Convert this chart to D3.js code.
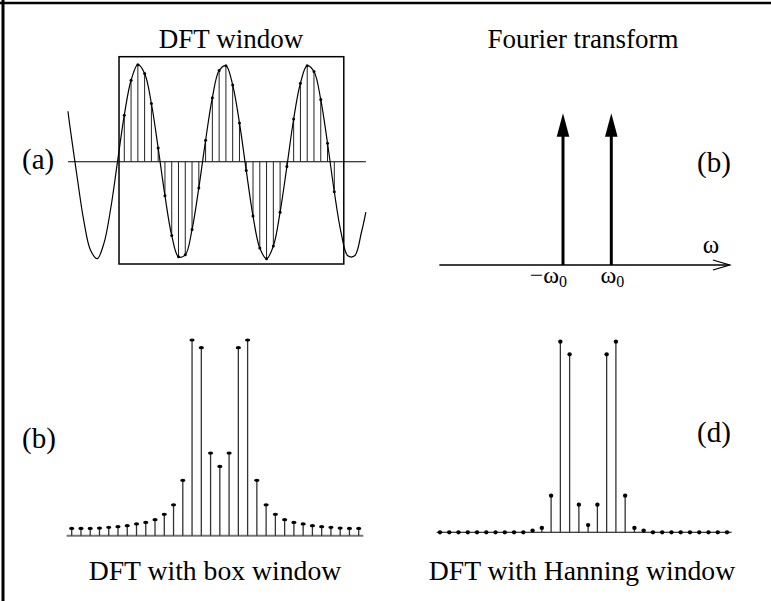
<!DOCTYPE html>
<html><head><meta charset="utf-8">
<script src="https://cdn.jsdelivr.net/npm/d3@7"></script>
<style>body{margin:0;background:#fff}svg{display:block}</style>
</head><body><svg id="c" width="771" height="601"></svg>
<script>
// ---------- data ----------
// (a) sampled sinusoid: sample n = 0..31 inside the DFT window
const sampleIndex = [0,1,2,3,4,5,6,7,8,9,10,11,12,13,14,15,16,17,18,19,20,21,22,23,24,25,26,27,28,29,30,31];
const sampleValues = [0.48,0.84,1.00,0.91,0.60,0.14,-0.35,-0.76,-0.98,-0.96,-0.70,-0.27,0.22,0.66,0.94,0.99,0.79,0.40,-0.09,-0.56,-0.89,-1.00,-0.87,-0.52,-0.05,0.44,0.81,0.99,0.93,0.64,0.19,-0.31];
// continuous signal outside the window
const tailLeftIndex = [-8.32,-8,-7,-6,-5,-4,-3,-2,-1];
const tailLeftValues = [0.52,0.35,-0.14,-0.60,-0.91,-1.00,-0.84,-0.48,0.00];
const tailRightIndex = [32,33,34,35,35.66];
const tailRightValues = [-0.73,-0.97,-0.97,-0.73,-0.52];
const windowRange = [-0.78, 32.4];

// (b) Fourier transform: impulses at -w0, +w0
const ftFreq = [-1, 1];
const ftAmp = [1, 1];
const ftLabels = ["\u2212\u03c9", "\u03c9"];
const ftAxisRange = [-6.12, 5.9];

// (c) DFT with box window (|X_k|, normalised)
const dftIndex = sampleIndex;
const boxDFT = [0.037,0.037,0.037,0.039,0.043,0.046,0.051,0.060,0.068,0.082,0.109,0.158,0.283,1.0,0.961,0.422,0.354,0.422,0.961,1.0,0.283,0.158,0.109,0.082,0.068,0.060,0.051,0.046,0.043,0.039,0.037,0.037];
// (d) DFT with Hanning window
const hannDFT = [0,0,0,0,0,0,0,0,0,0,0.009,0.023,0.192,1.0,0.934,0.145,0.038,0.145,0.934,1.0,0.192,0.023,0.009,0,0,0,0,0,0,0,0,0];

const titles = ["DFT window", "Fourier transform", "DFT with box window", "DFT with Hanning window"];
const panelLabels = ["(a)", "(b)", "(b)", "(d)"];

// ---------- drawing ----------
const svg = d3.select("#c");
const FONT = "'Liberation Serif','Times New Roman',Times,serif";
svg.append("rect").attr("width",771).attr("height",601).attr("fill","#fff");
// frame (left and top edges)
svg.append("line").attr("x1",3).attr("x2",3).attr("y1",0).attr("y2",601).attr("stroke","#000").attr("stroke-width",3);
svg.append("line").attr("x1",0).attr("x2",771).attr("y1",3).attr("y2",3).attr("stroke","#000").attr("stroke-width",2.6);

function txt(x,y,s,size,anchor){
  return svg.append("text").attr("x",x).attr("y",y).attr("font-family",FONT)
    .attr("font-size",size).attr("text-anchor",anchor||"middle").attr("fill","#000").text(s);
}
function label(x,y,s){
  return txt(x,y,s,29,"start");
}

// ---- panel (a) ----
{
  const x = d3.scaleLinear().domain([0,31]).range([124.3,334.3]);
  const y = d3.scaleLinear().domain([-1,1]).range([258.7,64.7]);
  const g = svg.append("g");
  g.append("rect").attr("x",x(windowRange[0])).attr("y",56.7)
    .attr("width",x(windowRange[1])-x(windowRange[0])).attr("height",264-56.7)
    .attr("fill","none").attr("stroke","#000").attr("stroke-width",1.5);
  g.append("line").attr("x1",x(tailLeftIndex[0])).attr("x2",x(tailRightIndex[tailRightIndex.length-1]))
    .attr("y1",y(0)).attr("y2",y(0)).attr("stroke","#000").attr("stroke-width",1.1);
  g.selectAll("line.s").data(sampleIndex).join("line").attr("class","s")
    .attr("x1",d=>x(d)).attr("x2",d=>x(d)).attr("y1",y(0)).attr("y2",(d,i)=>y(sampleValues[i]))
    .attr("stroke","#222").attr("stroke-width",1);
  const pts = [];
  tailLeftIndex.forEach((d,i)=>pts.push([d,tailLeftValues[i]]));
  sampleIndex.forEach((d,i)=>pts.push([d,sampleValues[i]]));
  tailRightIndex.forEach((d,i)=>pts.push([d,tailRightValues[i]]));
  g.append("path").datum(pts)
    .attr("d",d3.line().x(d=>x(d[0])).y(d=>y(d[1])).curve(d3.curveCatmullRom.alpha(0.5)))
    .attr("fill","none").attr("stroke","#000").attr("stroke-width",1.2);
  g.selectAll("circle").data(sampleIndex).join("circle")
    .attr("cx",d=>x(d)).attr("cy",(d,i)=>y(sampleValues[i])).attr("r",1.5).attr("fill","#000");
  txt(231,48,titles[0],27);
  label(22,169,panelLabels[0]);
}

// ---- panel (b) Fourier transform ----
{
  const x = d3.scaleLinear().domain([-1,1]).range([563,611.3]);
  const y = d3.scaleLinear().domain([0,1]).range([265,113.3]);
  const g = svg.append("g");
  const xEnd = x(ftAxisRange[1]);
  g.append("line").attr("x1",x(ftAxisRange[0])).attr("x2",xEnd).attr("y1",y(0)).attr("y2",y(0))
    .attr("stroke","#000").attr("stroke-width",1.5);
  g.append("path").attr("d",`M${xEnd-16.7},${y(0)-5}L${xEnd},${y(0)}L${xEnd-16.7},${y(0)+5}`)
    .attr("fill","none").attr("stroke","#000").attr("stroke-width",1.3);
  ftFreq.forEach((f,i)=>{
    const cx = x(f), top = y(ftAmp[i]);
    g.append("line").attr("x1",cx).attr("x2",cx).attr("y1",y(0)).attr("y2",top+20)
      .attr("stroke","#000").attr("stroke-width",3);
    g.append("path").attr("d",`M${cx-6.3},${top+23.4}L${cx},${top}L${cx+6.3},${top+23.4}Z`).attr("fill","#000");
  });
  const t1 = txt(x(ftFreq[0])+4,283,"",24,"end");
  t1.append("tspan").text(ftLabels[0]);
  t1.append("tspan").attr("font-size",16).attr("dy",4).text("0");
  const t2 = txt(x(ftFreq[1])+1,283,"",24,"middle");
  t2.append("tspan").text(ftLabels[1]);
  t2.append("tspan").attr("font-size",16).attr("dy",4).text("0");
  txt(711,253,"\u03c9",25);
  txt(583,48,titles[1],27);
  label(697,172,panelLabels[1]);
}

// ---- stem panels ----
function stemPanel(vals, xr, yr, base, marker){
  const x = d3.scaleLinear().domain([0,31]).range(xr);
  const y = d3.scaleLinear().domain([0,1]).range(yr);
  const g = svg.append("g");
  g.append("line").attr("x1",x(base[0])).attr("x2",x(base[1])).attr("y1",y(0)).attr("y2",y(0))
    .attr("stroke",marker.baseColor).attr("stroke-width",marker.baseWidth);
  g.selectAll("line.s").data(dftIndex).join("line").attr("class","s")
    .attr("x1",d=>x(d)).attr("x2",d=>x(d)).attr("y1",y(0)).attr("y2",(d,i)=>y(vals[i]))
    .attr("stroke","#333").attr("stroke-width",1.3);
  g.selectAll("ellipse").data(dftIndex).join("ellipse")
    .attr("cx",d=>x(d)).attr("cy",(d,i)=>y(vals[i])).attr("rx",marker.rx).attr("ry",marker.ry).attr("fill","#000");
}
stemPanel(boxDFT,[71.7,358.7],[535.7,340],[-0.55,31.5],{rx:2.6,ry:1.6,baseColor:"#777",baseWidth:2});
label(22,448,panelLabels[2]);
txt(215,580,titles[2],27.7);
stemPanel(hannDFT,[440,727],[532.3,341.7],[-0.36,31.5],{rx:2.2,ry:2.1,baseColor:"#000",baseWidth:1.1});
label(697,442,panelLabels[3]);
txt(582,580,titles[3],27.7);
</script></body></html>
